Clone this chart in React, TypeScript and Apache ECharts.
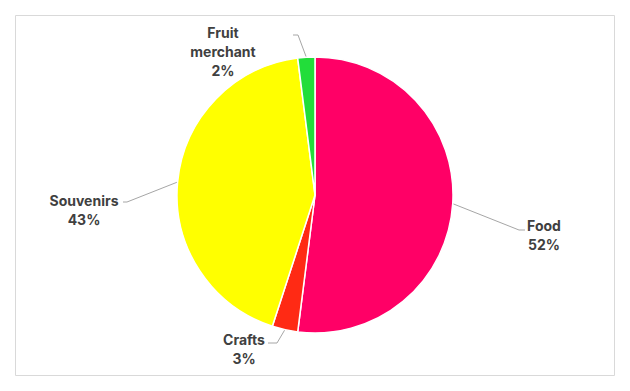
import React, { useEffect, useRef } from "react";
import * as echarts from "echarts";

const categories = ["Food", "Crafts", "Souvenirs", "Fruit merchant"];
const values = [52, 3, 43, 2];
const colors = ["#FF0066", "#FF2A14", "#FFFF00", "#22DD3A"];
// label centres (layout only)
const labelPos: [number, number][] = [
  [544, 235],
  [244, 349],
  [84, 210],
  [223, 51],
];
// leader line bend / end points (layout only)
const linePts: [number, number][][] = [
  [[519, 230], [525, 230]],
  [[277, 343], [268, 343]],
  [[127, 202], [123, 202]],
  [[298, 35], [293, 35]],
];

export default function App() {
  const ref = useRef<HTMLDivElement>(null);
  useEffect(() => {
    document.body.style.margin = "0";
    const chart = echarts.init(ref.current!, null, { renderer: "svg" });
    chart.setOption({
      animation: false,
      backgroundColor: "#ffffff",
      graphic: [
        {
          type: "rect",
          shape: { x: 15.5, y: 15.5, width: 599, height: 360 },
          style: { fill: "none", stroke: "#D9D9D9", lineWidth: 1 },
          silent: true,
        },
      ],
      series: [
        {
          type: "pie",
          center: [315, 195],
          radius: [0, 138],
          startAngle: 90,
          clockwise: true,
          data: categories.map((c, i) => ({
            name: c,
            value: values[i],
            itemStyle: { color: colors[i] },
          })),
          itemStyle: { borderColor: "#ffffff", borderWidth: 1.5 },
          label: {
            show: true,
            position: "outside",
            formatter: (p: any) =>
              p.name.replace(" ", "\n") + "\n" + Math.round(p.percent) + "%",
            fontFamily: "Inter, Open Sans, sans-serif",
            fontSize: 14,
            fontWeight: "bold",
            color: "#404040",
            lineHeight: 19,
            align: "center",
          },
          labelLine: {
            show: true,
            length: 20,
            length2: 5,
            lineStyle: { color: "#A6A6A6", width: 1 },
          },
          labelLayout: (params: any) => {
            const i = params.dataIndex;
            const [x, y] = labelPos[i];
            const p0 = params.labelLinePoints ? params.labelLinePoints[0] : null;
            const res: any = { x, y, align: "center", verticalAlign: "middle" };
            if (p0) res.labelLinePoints = [p0, linePts[i][0], linePts[i][1]];
            return res;
          },
        },
      ],
    });
    return () => chart.dispose();
  }, []);
  return <div ref={ref} style={{ width: 630, height: 391 }} />;
}
